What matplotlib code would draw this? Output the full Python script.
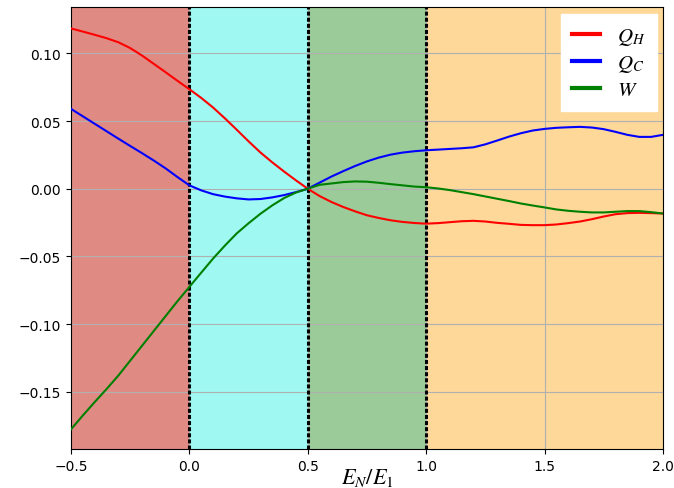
import matplotlib
matplotlib.use("Agg")
import matplotlib.pyplot as plt

plt.rcParams['mathtext.fontset'] = 'stix'

# values, step 0.05 in E_N/E_1
X = [-0.5, -0.45, -0.4, -0.35, -0.3, -0.25, -0.2, -0.15, -0.1, -0.05,
     0.0, 0.05, 0.1, 0.15, 0.2, 0.25, 0.3, 0.35, 0.4, 0.45,
     0.5, 0.55, 0.6, 0.65, 0.7, 0.75, 0.8, 0.85, 0.9, 0.95,
     1.0, 1.05, 1.1, 1.15, 1.2, 1.25, 1.3, 1.35, 1.4, 1.45,
     1.5, 1.55, 1.6, 1.65, 1.7, 1.75, 1.8, 1.85, 1.9, 1.95, 2.0]

Q_H = [0.1184, 0.1161, 0.1137, 0.1112, 0.1082, 0.1039, 0.0984, 0.0922, 0.086, 0.0797,
       0.0735, 0.0671, 0.0600, 0.052, 0.0436, 0.035, 0.0268, 0.0195, 0.0127, 0.0062,
       0.0, -0.0054, -0.0098, -0.0135, -0.0167, -0.0196, -0.0216, -0.0233, -0.0245, -0.0253,
       -0.0258, -0.0254, -0.0247, -0.024, -0.0237, -0.0242, -0.0252, -0.0259, -0.0267, -0.0269,
       -0.0269, -0.0264, -0.0254, -0.0242, -0.0225, -0.0205, -0.0188, -0.018, -0.0178, -0.018, -0.0183]

Q_C = [0.059, 0.0535, 0.048, 0.0425, 0.037, 0.0316, 0.0263, 0.0208, 0.0150, 0.0086,
       0.0025, -0.0012, -0.0040, -0.0058, -0.0071, -0.0079, -0.0076, -0.0064, -0.0047, -0.0025,
       0.0, 0.0045, 0.009, 0.013, 0.0168, 0.0202, 0.023, 0.0252, 0.0267, 0.0277,
       0.0284, 0.0289, 0.0294, 0.0299, 0.0306, 0.0328, 0.0356, 0.0385, 0.041, 0.043,
       0.0442, 0.045, 0.0454, 0.0457, 0.0452, 0.044, 0.042, 0.0398, 0.0383, 0.0383, 0.0398]

W = [-0.1777, -0.1675, -0.1576, -0.148, -0.138, -0.127, -0.116, -0.105, -0.094, -0.083,
     -0.0725, -0.062, -0.0516, -0.042, -0.033, -0.0255, -0.0185, -0.0123, -0.0069, -0.0028,
     0.0, 0.0029, 0.0039, 0.0049, 0.0054, 0.0052, 0.0044, 0.0034, 0.0025, 0.0016,
     0.0011, 0.0002, -0.001, -0.0025, -0.004, -0.0057, -0.0074, -0.0091, -0.0109, -0.0124,
     -0.0138, -0.0153, -0.0163, -0.017, -0.0175, -0.0175, -0.017, -0.0165, -0.0165, -0.0173, -0.0183]

REGION_EDGES = [-0.5, 0.0, 0.5, 1.0, 2.0]
REGION_COLORS = ['#E08A84', '#9FF8F2', '#9ACB98', '#FDD899']
BOUNDARIES = [0.0, 0.5, 1.0]

fig = plt.figure(figsize=(6.74, 4.89), dpi=100)
ax = fig.add_axes([0.1053, 0.079, 0.8783, 0.904])

for lo, hi, c in zip(REGION_EDGES[:-1], REGION_EDGES[1:], REGION_COLORS):
    ax.axvspan(lo, hi, color=c, lw=0, zorder=0)

for b in BOUNDARIES:
    ax.axvline(b, color='black', lw=2.2, ls=(0, (1.3, 0.7)), zorder=3)

ax.plot(X, Q_H, color='red', lw=1.5, label='$Q_H$', zorder=4)
ax.plot(X, Q_C, color='blue', lw=1.5, label='$Q_C$', zorder=4)
ax.plot(X, W, color='green', lw=1.5, label='$W$', zorder=4)

ax.set_xlim(-0.5, 2.0)
ax.set_ylim(-0.1925, 0.134)
ax.grid(True)

leg = ax.legend(loc='upper right', fontsize=15, handlelength=1.35,
                labelspacing=0.25, borderpad=0.55, borderaxespad=0.3,
                framealpha=1, fancybox=False, edgecolor='white')
for line in leg.get_lines():
    line.set_linewidth(3)

ax.set_xlabel('$E_N/E_1$', fontsize=16, labelpad=-5)

plt.savefig('out.png', dpi=100)
plt.close()
